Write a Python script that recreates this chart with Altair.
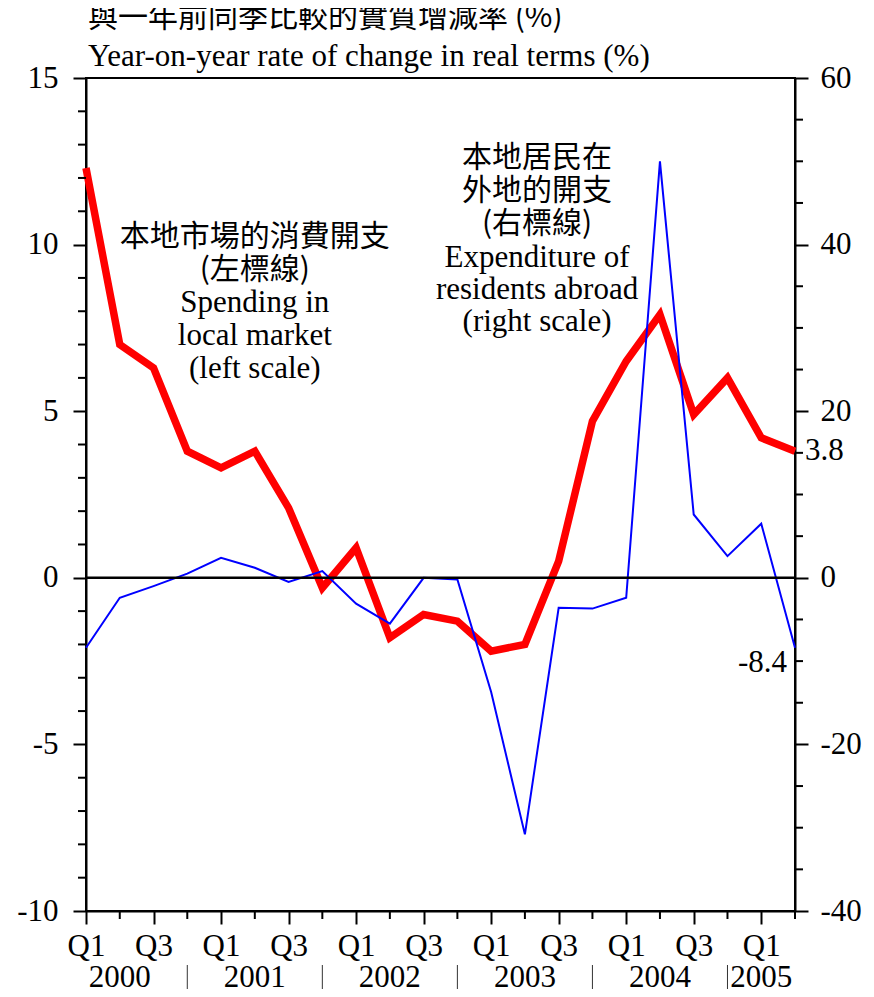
import altair as alt
import pandas as pd

# ---------------- data ----------------
quarters = list(range(22))  # 2000 Q1 ... 2005 Q2
quarter_names = [f"{y} Q{q}" for y in range(2000, 2006) for q in range(1, 5)][:22]
local_spending = [12.3, 7.0, 6.3, 3.8, 3.3, 3.8, 2.1, -0.3, 0.9, -1.8, -1.1,
                  -1.3, -2.2, -2.0, 0.5, 4.7, 6.5, 7.9, 4.9, 6.0, 4.2, 3.8]
residents_abroad = [-8.4, -2.4, -1.0, 0.5, 2.4, 1.2, -0.5, 0.8, -3.1, -5.5, 0.0,
                    -0.2, -13.7, -30.8, -3.6, -3.7, -2.4, 50.0, 7.6, 2.6, 6.5, -8.4]
years = ["2000", "2001", "2002", "2003", "2004", "2005"]
year_label_pos = [1, 5, 9, 13, 17, 20]
year_sep_pos = [3, 7, 11, 15, 19]
left_major = [-10, -5, 0, 5, 10, 15]
left_minor = [v for v in range(-10, 16) if v % 5 != 0]
right_major = [-40, -20, 0, 20, 40, 60]
right_minor = [v for v in range(-40, 61, 5) if v % 20 != 0]
x_major = [q for q in quarters if q % 2 == 0]
x_minor = [q for q in quarters if q % 2 == 1]

title_zh = "與一年前同季比較的實質增減率 (%)"
title_en = "Year-on-year rate of change in real terms (%)"
left_note_zh = ["本地市場的消費開支", "(左標線)"]
left_note_en = ["Spending in", "local market", "(left scale)"]
right_note_zh = ["本地居民在", "外地的開支", "(右標線)"]
right_note_en = ["Expenditure of", "residents abroad", "(right scale)"]

# ---------------- styling ----------------
W, H = 709, 833
SERIF = "Liberation Serif"
CJK = "Noto Sans CJK TC"
FS = 31
FS_ZH = 30
MAJ, MIN = 13, 8

df = pd.DataFrame({"q": quarters, "name": quarter_names,
                   "local": local_spending, "abroad": residents_abroad})
df["local_txt"] = [f"{v:.1f}" for v in local_spending]
df["abroad_txt"] = [f"{v:.1f}" for v in residents_abroad]
last = df.tail(1)
years_df = pd.DataFrame({"pos": year_label_pos, "year": years})
sep_df = pd.DataFrame({"pos": year_sep_pos})
zero_df = pd.DataFrame({"z": [0]})
one = pd.DataFrame({"a": [0]})

x_scale = alt.Scale(domain=[0, 21], nice=False, zero=False)
yl_scale = alt.Scale(domain=[-10, 15], nice=False, zero=False)
yr_scale = alt.Scale(domain=[-40, 60], nice=False, zero=False)

common_axis = dict(title=None, grid=False, labelFont=SERIF, labelFontSize=FS,
                   labelColor="black", tickColor="black", tickWidth=2, tickSize=MAJ,
                   domainColor="black", domainWidth=2, labelOverlap=False,
                   labelFlush=False)

x_axis = alt.Axis(values=x_major, orient="bottom",
                  labelExpr="datum.value % 4 == 0 ? 'Q1' : 'Q3'",
                  labelPadding=7, **common_axis)
yl_axis = alt.Axis(values=left_major, orient="left",
                   labelExpr="'' + datum.value", labelPadding=15, **common_axis)
yr_axis = alt.Axis(values=right_major, orient="right",
                   labelExpr="'' + datum.value", labelPadding=12, **common_axis)


def XF(field):
    return alt.X(field, scale=x_scale, axis=x_axis)


def YL(field):
    return alt.Y(field, scale=yl_scale, axis=yl_axis)


def YR(field):
    return alt.Y(field, scale=yr_scale, axis=yr_axis)


# ---------------- left-scale layers ----------------
red_line = alt.Chart(df).mark_line(color="#ff0000", strokeWidth=7.5).encode(
    x=XF("q:Q"), y=YL("local:Q"))

red_label = alt.Chart(last).mark_text(align="left", baseline="middle", dx=10,
                                      font=SERIF, fontSize=FS, color="black").encode(
    x=XF("q:Q"), y=YL("local:Q"), text="local_txt:N")

left_minor_ticks = alt.Chart(pd.DataFrame({"v": left_minor})).mark_rule(
    color="black", strokeWidth=2).encode(
    y=YL("v:Q"), x=alt.value(-MIN), x2=alt.value(0))

x_minor_ticks = alt.Chart(pd.DataFrame({"v": x_minor})).mark_rule(
    color="black", strokeWidth=2).encode(
    x=XF("v:Q"), y=alt.value(H), y2=alt.value(H + MIN))


def note(lines, font, size, xq, yv, lh):
    return alt.Chart(one).mark_text(text=lines, align="center", baseline="middle",
                                    font=font, fontSize=size, lineHeight=lh,
                                    color="black").encode(
        x=alt.datum(xq, scale=x_scale), y=alt.datum(yv, scale=yl_scale))


note_l_zh = note(left_note_zh, CJK, FS_ZH, 5, 10.23, 33)
note_l_en = note(left_note_en, SERIF, FS, 5, 8.25, 33)
note_r_zh = note(right_note_zh, CJK, FS_ZH, 13.36, 12.6, 33)
note_r_en = note(right_note_en, SERIF, FS, 13.36, 9.6, 32)

title1 = alt.Chart(one).mark_text(text=title_zh, align="left", baseline="middle",
                                  font=CJK, fontSize=FS_ZH, color="black").encode(
    x=alt.value(2), y=alt.value(-60))
title2 = alt.Chart(one).mark_text(text=title_en, align="left", baseline="middle",
                                  font=SERIF, fontSize=FS, color="black").encode(
    x=alt.value(2), y=alt.value(-21))

year_text = alt.Chart(years_df).mark_text(baseline="middle", font=SERIF, fontSize=FS,
                                          color="black").encode(
    x=XF("pos:Q"), y=alt.value(H + 67), text="year:N")
year_sep = alt.Chart(sep_df).mark_rule(color="#333333", strokeWidth=1).encode(
    x=XF("pos:Q"), y=alt.value(H + 54), y2=alt.value(H + 80))

left = alt.layer(red_line, red_label, left_minor_ticks, x_minor_ticks,
                 note_l_zh, note_l_en, note_r_zh, note_r_en,
                 title1, title2, year_text, year_sep)

# ---------------- right-scale layers ----------------
blue_line = alt.Chart(df).mark_line(color="#0000ff", strokeWidth=2).encode(
    x=XF("q:Q"), y=YR("abroad:Q"))
blue_label = alt.Chart(last).mark_text(align="right", baseline="middle", dx=-8, dy=15,
                                       font=SERIF, fontSize=FS, color="black").encode(
    x=XF("q:Q"), y=YR("abroad:Q"), text="abroad_txt:N")
zero_line = alt.Chart(zero_df).mark_rule(color="black", strokeWidth=2.5).encode(
    y=YR("z:Q"))
right_minor_ticks = alt.Chart(pd.DataFrame({"v": right_minor})).mark_rule(
    color="black", strokeWidth=2).encode(
    y=YR("v:Q"), x=alt.value(W), x2=alt.value(W + MIN))
right = alt.layer(blue_line, blue_label, zero_line, right_minor_ticks)

chart = alt.layer(left, right).resolve_scale(y="independent").properties(
    width=W, height=H,
    autosize=alt.AutoSizeParams(type="none"),
    padding={"left": 78, "top": 70, "right": 71, "bottom": 78},
).configure_view(stroke="black", strokeWidth=2)

chart.save("out.html", embed_options={"renderer": "svg", "actions": False})
